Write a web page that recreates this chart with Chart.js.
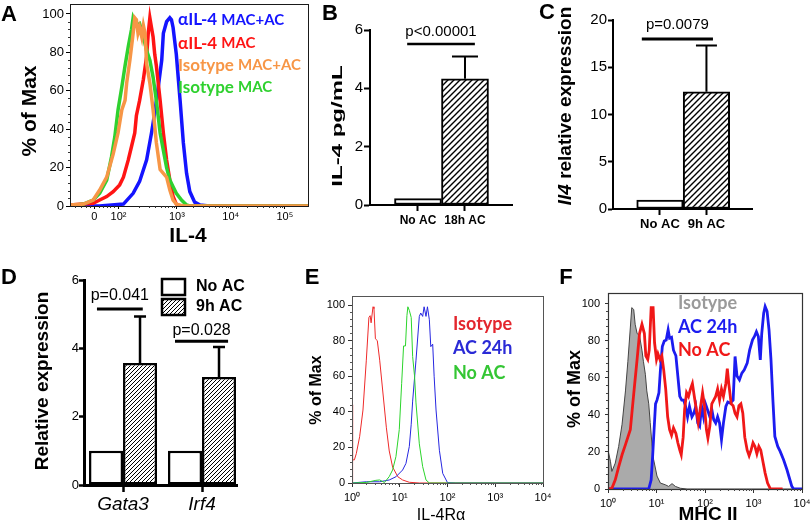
<!DOCTYPE html>
<html>
<head>
<meta charset="utf-8">
<script src="https://cdn.jsdelivr.net/npm/chart.js@4.4.1/dist/chart.umd.min.js"></script>
<style>
  html, body { margin: 0; padding: 0; background: #ffffff; }
  #fig { position: relative; width: 810px; height: 527px; overflow: hidden; background: #fff; }
  #fig canvas { position: absolute; left: 0; top: 0; }
</style>
</head>
<body>
<div id="fig">
  <canvas id="cA" width="810" height="527"></canvas>
  <canvas id="cB" width="810" height="527"></canvas>
  <canvas id="cC" width="810" height="527"></canvas>
  <canvas id="cD" width="810" height="527"></canvas>
  <canvas id="cE" width="810" height="527"></canvas>
  <canvas id="cF" width="810" height="527"></canvas>
</div>
<script>
// ===================== DATA =====================
// Panel A: IL-4 flow histograms (x = position on logicle display axis, y = % of max)
const A_tickValues = [1.47, 1.92, 3, 4, 5];
const A_tickLabels = ['0', '10²', '10³', '10⁴', '10⁵'];
const A_legend = ['αIL-4 MAC+AC', 'αIL-4 MAC', 'Isotype MAC+AC', 'Isotype MAC'];
const A_blue_x = [1.02, 1.57, 2.01, 2.19, 2.31, 2.44, 2.53, 2.59, 2.65, 2.72, 2.75, 2.81, 2.87, 2.90, 2.93, 2.99, 3.06, 3.12, 3.18, 3.24, 3.33, 3.43, 3.6, 5.43];
const A_blue_y = [0, 0, 1, 6.6, 12.8, 24, 38, 48.6, 60.8, 76, 90, 96, 98, 97, 93, 79, 55, 33, 17, 7.5, 2, 0.5, 0, 0];
const A_red_x = [1.02, 1.45, 1.57, 1.70, 1.82, 1.94, 2.01, 2.10, 2.16, 2.22, 2.25, 2.31, 2.38, 2.44, 2.47, 2.50, 2.53, 2.56, 2.59, 2.62, 2.69, 2.75, 2.81, 2.87, 2.93, 2.99, 3.06, 5.43];
const A_red_y = [0.5, 1.4, 3.1, 4.9, 7.5, 11, 15, 24, 31, 38, 47, 55, 66, 78, 90, 98, 93, 88, 79, 73, 55, 38, 24, 13.5, 5, 1, 0, 0];
const A_orange_x = [1.02, 1.27, 1.45, 1.57, 1.70, 1.82, 1.91, 1.98, 2.04, 2.07, 2.13, 2.19, 2.22, 2.25, 2.28, 2.31, 2.35, 2.38, 2.41, 2.44, 2.50, 2.56, 2.62, 2.69, 2.75, 2.81, 2.87, 2.93, 2.99, 3.12, 5.43];
const A_orange_y = [0.5, 1, 3.1, 8.3, 15, 27, 38, 50, 55, 64, 76, 90, 98, 97, 90, 93, 88, 94, 90, 74, 64, 50, 33, 19, 17, 15, 8.3, 3, 1, 0, 0];
const A_green_x = [1.02, 1.27, 1.45, 1.57, 1.70, 1.79, 1.85, 1.91, 1.98, 2.04, 2.10, 2.16, 2.19, 2.25, 2.31, 2.38, 2.44, 2.50, 2.56, 2.62, 2.69, 2.75, 2.81, 2.87, 2.93, 2.99, 3.09, 3.18, 3.24, 5.43];
const A_green_y = [0, 1, 3.1, 6.6, 13.5, 25.7, 36, 50, 62, 73, 83, 92, 98, 94, 95, 88, 81, 76, 67, 55, 38, 29, 20, 13.5, 10, 6.6, 3, 0.5, 0, 0];

// Panel B: IL-4 pg/mL
const B_categories = ['No AC', '18h AC'];
const B_values = [0.22, 4.33];
const B_errors = [0, 0.76];
const B_pText = 'p<0.00001';

// Panel C: Il4 relative expression
const C_categories = ['No AC', '9h AC'];
const C_values = [0.95, 12.4];
const C_errors = [0, 4.9];
const C_pText = 'p=0.0079';

// Panel D: relative expression of Gata3 / Irf4
const D_genes = ['Gata3', 'Irf4'];
const D_series = ['No AC', '9h AC'];
const D_noAC = [1, 1];
const D_9hAC = [3.57, 3.16];
const D_9hAC_err = [1.36, 0.88];
const D_pTexts = ['p=0.041', 'p=0.028'];

// Panel E: IL-4Rα histograms (x = log10 intensity, y = % of max)
const E_tickLabels = ['10⁰', '10¹', '10²', '10³', '10⁴'];
const E_legend = ['Isotype', 'AC 24h', 'No AC'];
const E_red_x = [0, 0.005, 0.02, 0.05, 0.09, 0.16, 0.23, 0.30, 0.354, 0.38, 0.40, 0.44, 0.46, 0.49, 0.53, 0.58, 0.65, 0.72, 0.78, 0.85, 0.96, 1.06, 1.20, 1.41, 4];
const E_red_y = [0, 44, 13, 13, 16.5, 26, 41, 69, 93, 94, 90, 99, 98, 81, 80, 69, 50, 31, 18, 9, 3.5, 1.7, 0.4, 0, 0];
const E_blue_x = [0, 0.30, 0.58, 0.78, 0.92, 1.06, 1.13, 1.20, 1.24, 1.27, 1.34, 1.41, 1.44, 1.48, 1.51, 1.55, 1.58, 1.62, 1.65, 1.69, 1.72, 1.76, 1.83, 1.90, 2.0, 2.17, 4];
const E_blue_y = [0, 0.7, 0.7, 1.7, 3.5, 7.3, 11, 20.5, 33, 46, 69, 93.6, 95.5, 93.6, 99, 93.6, 99, 91.7, 76.6, 78, 60, 41, 18.4, 5.4, 0.2, 0, 0];
const E_green_x = [0, 0.30, 0.50, 0.58, 0.68, 0.78, 0.85, 0.92, 0.99, 1.04, 1.08, 1.12, 1.15, 1.17, 1.20, 1.24, 1.27, 1.31, 1.34, 1.41, 1.48, 1.55, 1.62, 4];
const E_green_y = [0, 0.3, 1.5, 1.7, 0.3, 3.6, 7.3, 14.8, 30, 56, 77, 77, 94, 99, 97, 93, 71, 60, 45, 22, 9.2, 1.7, 0, 0];

// Panel F: MHC II histograms (x = log10 intensity, y = % of max)
const F_tickLabels = ['10⁰', '10¹', '10²', '10³', '10⁴'];
const F_legend = ['Isotype', 'AC 24h', 'No AC'];
const F_iso_x = [0, 0.05, 0.08, 0.15, 0.22, 0.29, 0.36, 0.41, 0.46, 0.49, 0.53, 0.56, 0.60, 0.65, 0.70, 0.73, 0.77, 0.80, 0.84, 0.87, 0.91, 0.94, 1.01, 1.08, 1.18, 1.25, 1.32, 1.39, 1.49, 1.63, 4];
const F_iso_y = [21, 15, 9.5, 14, 23, 35, 53, 69, 87, 98, 97, 89, 84, 83, 75, 69, 62, 53, 46, 36, 23, 16, 7, 3.2, 2.3, 1.4, 2.9, 1.4, 0.4, 0, 0];
const F_red_x = [0, 0.08, 0.15, 0.22, 0.29, 0.36, 0.41, 0.46, 0.50, 0.54, 0.60, 0.65, 0.70, 0.75, 0.78, 0.82, 0.85, 0.89, 0.93, 0.96, 1.00, 1.03, 1.07, 1.11, 1.15, 1.19, 1.23, 1.27, 1.31, 1.35, 1.40, 1.44, 1.48, 1.51, 1.55, 1.58, 1.62, 1.66, 1.70, 1.74, 1.78, 1.82, 1.86, 1.90, 1.95, 1.99, 2.03, 2.06, 2.10, 2.14, 2.18, 2.22, 2.26, 2.30, 2.34, 2.38, 2.43, 2.46, 2.49, 2.54, 2.58, 2.62, 2.66, 2.70, 2.74, 2.78, 2.82, 2.87, 2.91, 2.95, 2.99, 3.03, 3.07, 3.11, 3.15, 3.20, 3.24, 3.29, 3.35, 3.6];
const F_red_y = [0, 0.4, 5, 12, 18.5, 24, 28, 32, 43, 54, 70, 84, 89, 84, 72, 70, 75, 98, 98, 79, 70, 73, 70, 72, 64, 54, 39, 32, 29, 33, 30, 25, 21, 18.5, 28, 43, 52, 50, 54, 57, 50, 43, 36, 43, 52, 45, 32, 27.5, 34, 46, 48, 50, 54, 48, 54, 50, 57, 65, 57, 46, 45, 41, 39, 45, 46, 41, 28, 21, 18, 21, 25, 23, 19, 23, 21, 14, 8.6, 3.2, 0, 0];
const F_blue_x = [0, 0.84, 0.89, 0.92, 0.95, 0.98, 1.01, 1.05, 1.08, 1.12, 1.16, 1.20, 1.24, 1.27, 1.31, 1.35, 1.40, 1.44, 1.48, 1.52, 1.56, 1.60, 1.64, 1.68, 1.73, 1.77, 1.81, 1.85, 1.89, 1.93, 1.97, 2.01, 2.05, 2.10, 2.14, 2.18, 2.22, 2.26, 2.30, 2.34, 2.38, 2.43, 2.47, 2.52, 2.58, 2.62, 2.66, 2.71, 2.76, 2.81, 2.87, 2.92, 2.98, 3.02, 3.06, 3.10, 3.14, 3.17, 3.21, 3.24, 3.28, 3.32, 3.36, 3.40, 3.44, 3.50, 3.55, 3.62, 3.69, 3.75, 3.79, 3.83, 4];
const F_blue_y = [0, 0, 5, 17.6, 32, 46, 48, 52, 64, 77, 80, 80.5, 86, 81.5, 82, 75, 72, 61, 50, 48, 48, 44.6, 39, 44.6, 39, 41, 44.6, 35.6, 34, 44.6, 39, 46, 43, 39, 43, 37.4, 35.6, 39, 35.6, 26.6, 35.6, 44.6, 47, 46.4, 48, 71.6, 61, 59, 62.6, 64.4, 68, 75, 80.6, 82.4, 85, 82.4, 69.8, 84, 95, 98.6, 96, 86, 70, 48, 28.4, 23, 20.3, 15.8, 10.4, 5, 1.4, 0, 0];

// ===================== HELPERS =====================
const W = 810, H = 527;
const SANS = '"Liberation Sans", Arial, sans-serif';
const LATO = 'Lato, "Liberation Sans", sans-serif';
const UP = -Math.PI / 2;
const PCT_TICKS = [0, 20, 40, 60, 80, 100];
const pctMinor = [];
for (let v = 4; v < 100; v += 4) if (v % 20) pctMinor.push(v);
function logMinor(d0, d1) { const a = []; for (let d = d0; d < d1; d++) for (let k = 2; k <= 9; k++) a.push(d + Math.log10(k)); return a; }
function pts(xs, ys) { return xs.map((x, i) => ({ x: x, y: ys[i] })); }

function layoutBox(L, T, R, B, yW, xH) {
  return { padding: { left: L - yW, top: T, right: W - R, bottom: H - B - xH } };
}
function xScale(min, max, tickVals, labels, o) {
  return {
    type: 'linear', min: min, max: max, offset: false,
    afterBuildTicks: s => { s.ticks = tickVals.map(v => ({ value: v })); },
    afterFit: s => { s.height = o.h; s.paddingLeft = 0; s.paddingRight = 0; },
    ticks: { callback: (v, i) => labels[i], font: o.font, color: '#000', padding: o.pad, maxRotation: 0, minRotation: 0, autoSkip: false },
    grid: { display: true, offset: false, drawOnChartArea: false, drawTicks: true, tickLength: o.tl, tickWidth: o.tw || 1, tickColor: o.tc || '#000' },
    border: o.border || { display: false }
  };
}
function yScale(min, max, tickVals, o) {
  return {
    type: 'linear', min: min, max: max,
    afterBuildTicks: s => { s.ticks = tickVals.map(v => ({ value: v })); },
    afterFit: s => { s.width = o.w; s.paddingTop = 0; s.paddingBottom = 0; },
    ticks: { font: o.font, color: '#000', padding: o.pad, autoSkip: false },
    grid: { display: true, drawOnChartArea: false, drawTicks: true, tickLength: o.tl, tickWidth: o.tw || 1, tickColor: o.tc || '#000' },
    border: o.border || { display: false }
  };
}
function baseOptions(layout, scales) {
  return {
    responsive: false, animation: false, devicePixelRatio: 1, events: [],
    layout: layout,
    plugins: { legend: { display: false }, tooltip: { enabled: false } },
    scales: scales
  };
}
function line(xs, ys, color, lw, order, extra) {
  return Object.assign({ data: pts(xs, ys), showLine: true, borderColor: color, backgroundColor: color, borderWidth: lw, pointRadius: 0, tension: 0, order: order, fill: false }, extra || {});
}
function txt(ctx, s, x, y, o) {
  ctx.save();
  ctx.translate(x, y);
  if (o.rot) ctx.rotate(o.rot);
  if (o.sx || o.sy) ctx.scale(o.sx || 1, o.sy || 1);
  ctx.font = o.font; ctx.fillStyle = o.color || '#000';
  ctx.textAlign = o.align || 'center'; ctx.textBaseline = 'middle';
  ctx.fillText(s, 0, 0);
  ctx.restore();
}
function mixed(ctx, parts, x, y, o) {
  ctx.save();
  ctx.translate(x, y);
  if (o.rot) ctx.rotate(o.rot);
  let total = 0;
  parts.forEach(p => { ctx.font = p.font; p.w = ctx.measureText(p.t).width; total += p.w; });
  let cx = o.align === 'left' ? 0 : -total / 2;
  ctx.textBaseline = 'middle'; ctx.textAlign = 'left';
  parts.forEach(p => { ctx.font = p.font; ctx.fillStyle = p.color || '#000'; ctx.fillText(p.t, cx, 0); cx += p.w; });
  ctx.restore();
}
function frame(chart, color, lw) {
  const a = chart.chartArea, ctx = chart.ctx;
  ctx.save(); ctx.strokeStyle = color; ctx.lineWidth = lw;
  ctx.strokeRect(Math.round(a.left) + 0.5, Math.round(a.top) + 0.5, Math.round(a.right - a.left), Math.round(a.bottom - a.top));
  ctx.restore();
}
function minorTicks(chart, xs, ys, len, color) {
  const ctx = chart.ctx, a = chart.chartArea, sx = chart.scales.x, sy = chart.scales.y;
  ctx.save(); ctx.strokeStyle = color; ctx.lineWidth = 1; ctx.beginPath();
  xs.forEach(v => { if (v < sx.min || v > sx.max) return; const p = Math.round(sx.getPixelForValue(v)) + 0.5; ctx.moveTo(p, a.bottom); ctx.lineTo(p, a.bottom + len); });
  ys.forEach(v => { const p = Math.round(sy.getPixelForValue(v)) + 0.5; ctx.moveTo(a.left, p); ctx.lineTo(a.left - len, p); });
  ctx.stroke(); ctx.restore();
}
function hatch(step, lw) {
  const c = document.createElement('canvas'); c.width = step; c.height = step;
  const g = c.getContext('2d');
  g.fillStyle = '#fff'; g.fillRect(0, 0, step, step);
  g.strokeStyle = '#000'; g.lineWidth = lw; g.beginPath();
  for (let k = 0; k <= 2; k++) { g.moveTo(-1, k * step + 1); g.lineTo(step + 1, k * step - step - 1); }
  g.stroke();
  return document.createElement('canvas').getContext('2d').createPattern(c, 'repeat');
}
function errorBars(chart, cap, lw) {
  const ctx = chart.ctx, ys = chart.scales.y;
  chart.data.datasets.forEach((ds, di) => {
    if (!ds.errors) return;
    chart.getDatasetMeta(di).data.forEach((el, j) => {
      const e = ds.errors[j]; if (!e) return;
      const top = ys.getPixelForValue(ds.data[j].y + e);
      ctx.save(); ctx.strokeStyle = '#000'; ctx.lineWidth = lw; ctx.beginPath();
      ctx.moveTo(el.x, el.y); ctx.lineTo(el.x, top);
      ctx.moveTo(el.x - cap / 2, top); ctx.lineTo(el.x + cap / 2, top);
      ctx.stroke(); ctx.restore();
    });
  });
}
function sigLine(chart, s, label, lw, gap, font) {
  const ctx = chart.ctx, xs = chart.scales.x, ys = chart.scales.y;
  const x0 = xs.getPixelForValue(s.from), x1 = xs.getPixelForValue(s.to), y = ys.getPixelForValue(s.y);
  ctx.save(); ctx.strokeStyle = '#000'; ctx.lineWidth = lw; ctx.beginPath();
  ctx.moveTo(x0, y); ctx.lineTo(x1, y); ctx.stroke(); ctx.restore();
  txt(ctx, label, (x0 + x1) / 2, y - gap, { font: font });
}
const LETTER = 'bold 22px ' + SANS;

// ===================== PANEL A =====================
new Chart(document.getElementById('cA'), {
  type: 'scatter',
  data: { datasets: [
    line(A_orange_x, A_orange_y, '#f79646', 3.5, 0),
    line(A_green_x, A_green_y, '#2fd12f', 3.5, 1),
    line(A_red_x, A_red_y, '#ff1414', 3.5, 2),
    line(A_blue_x, A_blue_y, '#1414ff', 3.5, 3)
  ] },
  options: baseOptions(layoutBox(70, 4, 308, 206, 70, 24), {
    x: xScale(1.02, 5.43, A_tickValues, A_tickLabels, { h: 24, font: { family: SANS, size: 11 }, pad: 1, tl: 3 }),
    y: yScale(0, 105.2, PCT_TICKS, { w: 70, font: { family: SANS, size: 13 }, pad: 2, tl: 4 })
  }),
  plugins: [{ id: 'decoA', afterDraw(chart) {
    const ctx = chart.ctx;
    frame(chart, '#1a1a1a', 1);
    minorTicks(chart, logMinor(2, 5).filter(v => v > 2).concat([1.12, 1.22, 1.31, 1.39, 1.55, 1.63, 1.70, 1.77, 1.84]), pctMinor, 2, '#333');
    txt(ctx, 'A', 9, 15, { font: LETTER });
    txt(ctx, '% of Max', 30, 111, { font: 'bold 21px ' + SANS, rot: UP });
    txt(ctx, 'IL-4', 188, 236, { font: 'bold 21px ' + SANS });
    const cols = ['#1414ff', '#ff1414', '#f79646', '#2fd12f'];
    const ys = [20, 43.5, 65.5, 87.5];
    A_legend.forEach((s, i) => {
      const sp = s.indexOf(' ');
      mixed(ctx, [
        { t: s.slice(0, sp + 1), font: 'bold 17px ' + LATO, color: cols[i] },
        { t: s.slice(sp + 1), font: 'bold 15px ' + LATO, color: cols[i] }
      ], 178, ys[i], { align: 'left' });
    });
  } }]
});

// ===================== PANEL B =====================
const hatchB = hatch(6, 1.4);
new Chart(document.getElementById('cB'), {
  type: 'bar',
  data: { datasets: [{
    data: pts([0, 1], B_values), errors: B_errors,
    backgroundColor: ['#ffffff', hatchB], borderColor: '#000', borderWidth: 2, borderSkipped: false,
    barPercentage: 1, categoryPercentage: 1
  }] },
  options: baseOptions(layoutBox(370, 30, 512, 205, 50, 32), {
    x: xScale(-1.021, 2.0, [0, 1], B_categories, { h: 32, font: { family: SANS, size: 12, weight: 'bold' }, pad: 2, tl: 6, tw: 2, border: { display: true, width: 2, color: '#000' } }),
    y: yScale(0, 6, [0, 2, 4, 6], { w: 50, font: { family: SANS, size: 15 }, pad: 1, tl: 6, tw: 2, border: { display: true, width: 2, color: '#000' } })
  }),
  plugins: [{ id: 'decoB', afterDraw(chart) {
    const ctx = chart.ctx;
    errorBars(chart, 26, 2);
    sigLine(chart, { from: -0.23, to: 1.21, y: 5.52 }, B_pText, 2.5, 12, '15px ' + SANS);
    txt(ctx, 'B', 330, 14, { font: LETTER });
    txt(ctx, 'IL-4 pg/mL', 338, 126, { font: 'bold 15px ' + SANS, rot: UP, sx: 1.6 });
  } }]
});

// ===================== PANEL C =====================
const hatchC = hatch(6, 1.4);
new Chart(document.getElementById('cC'), {
  type: 'bar',
  data: { datasets: [{
    data: pts([0, 1], C_values), errors: C_errors,
    backgroundColor: ['#ffffff', hatchC], borderColor: '#000', borderWidth: 2, borderSkipped: false,
    barPercentage: 1, categoryPercentage: 1
  }] },
  options: baseOptions(layoutBox(613, 20, 752, 209, 53, 32), {
    x: xScale(-1.01, 1.98, [0, 1], C_categories, { h: 32, font: { family: SANS, size: 13, weight: 'bold' }, pad: 2, tl: 6, tw: 2, border: { display: true, width: 2, color: '#000' } }),
    y: yScale(0, 20, [0, 5, 10, 15, 20], { w: 53, font: { family: SANS, size: 15 }, pad: 1, tl: 5, tw: 2, border: { display: true, width: 2, color: '#000' } })
  }),
  plugins: [{ id: 'decoC', afterDraw(chart) {
    const ctx = chart.ctx;
    errorBars(chart, 21, 2);
    sigLine(chart, { from: -0.39, to: 1.14, y: 18.0 }, C_pText, 3, 14, '15px ' + SANS);
    txt(ctx, 'C', 547, 13, { font: LETTER });
    mixed(ctx, [
      { t: 'Il4', font: 'italic bold 19px ' + SANS },
      { t: ' relative expression', font: 'bold 19px ' + SANS }
    ], 566, 106, { rot: UP });
  } }]
});

// ===================== PANEL D =====================
const hatchD = hatch(4, 1);
new Chart(document.getElementById('cD'), {
  type: 'bar',
  data: { datasets: [
    { label: D_series[0], data: pts([0, 1], D_noAC), backgroundColor: '#ffffff', borderColor: '#000', borderWidth: 2.5, borderSkipped: false, barPercentage: 1, categoryPercentage: 0.861 },
    { label: D_series[1], data: pts([0, 1], D_9hAC), errors: D_9hAC_err, backgroundColor: hatchD, borderColor: '#000', borderWidth: 2.5, borderSkipped: false, barPercentage: 1, categoryPercentage: 0.861 }
  ] },
  options: baseOptions(layoutBox(84, 280, 237, 485, 50, 40), {
    x: xScale(-0.494, 1.443, [0, 1], D_genes, { h: 40, font: { family: SANS, size: 19, style: 'italic' }, pad: 1, tl: 7, tw: 2.5, border: { display: true, width: 3, color: '#000' } }),
    y: yScale(0, 6, [0, 2, 4, 6], { w: 50, font: { family: SANS, size: 13 }, pad: 0, tl: 5, tw: 2.5, border: { display: true, width: 3, color: '#000' } })
  }),
  plugins: [{ id: 'decoD', afterDraw(chart) {
    const ctx = chart.ctx;
    errorBars(chart, 12, 2.5);
    sigLine(chart, { from: -0.33, to: 0.25, y: 5.15 }, D_pTexts[0], 3, 13, '16px ' + SANS);
    sigLine(chart, { from: 0.658, to: 1.33, y: 4.21 }, D_pTexts[1], 3, 11, '16px ' + SANS);
    txt(ctx, 'D', 9, 278, { font: LETTER });
    txt(ctx, 'Relative expression', 43, 381, { font: 'bold 19px ' + SANS, rot: UP });
    const items = [{ y: 279, fill: '#ffffff' }, { y: 299, fill: hatchD }];
    items.forEach((it, i) => {
      ctx.save(); ctx.fillStyle = it.fill; ctx.fillRect(162, it.y, 23, 16);
      ctx.strokeStyle = '#000'; ctx.lineWidth = 2.5; ctx.strokeRect(162, it.y, 23, 16); ctx.restore();
      txt(ctx, chart.data.datasets[i].label, 196, it.y + 8, { font: 'bold 16px ' + SANS, align: 'left' });
    });
  } }]
});

// ===================== PANEL E =====================
new Chart(document.getElementById('cE'), {
  type: 'scatter',
  data: { datasets: [
    line(E_green_x, E_green_y, '#2bd42b', 1, 0),
    line(E_blue_x, E_blue_y, '#2626e0', 1, 1),
    line(E_red_x, E_red_y, '#ee2a2a', 1, 2)
  ] },
  options: baseOptions(layoutBox(352, 296, 543, 483, 52, 30), {
    x: xScale(0, 4, [0, 1, 2, 3, 4], E_tickLabels, { h: 30, font: { family: SANS, size: 11 }, pad: 4, tl: 4, tc: '#333' }),
    y: yScale(0, 105.06, PCT_TICKS, { w: 52, font: { family: SANS, size: 11 }, pad: 3, tl: 4, tc: '#333' })
  }),
  plugins: [{ id: 'decoE', afterDraw(chart) {
    const ctx = chart.ctx;
    frame(chart, '#555', 1);
    minorTicks(chart, logMinor(0, 4), pctMinor, 2, '#555');
    txt(ctx, 'E', 312, 278, { font: LETTER });
    txt(ctx, '% of Max', 316.5, 390, { font: 'bold 16px ' + SANS, rot: UP });
    txt(ctx, 'IL-4Rα', 441, 516, { font: '16px ' + SANS });
    const cols = ['#e3262d', '#2a2ad6', '#34c634'];
    const ys = [324, 348.5, 373.5];
    E_legend.forEach((s, i) => txt(ctx, s, 453, ys[i], { font: 'bold 18px ' + LATO, color: cols[i], align: 'left' }));
  } }]
});

// ===================== PANEL F =====================
new Chart(document.getElementById('cF'), {
  type: 'scatter',
  data: { datasets: [
    line(F_red_x, F_red_y, '#f01818', 2.8, 0),
    line(F_blue_x, F_blue_y, '#1c1cf0', 2.8, 1),
    line(F_iso_x, F_iso_y, '#444444', 1, 2, { fill: 'origin', backgroundColor: '#aaaaaa' })
  ] },
  options: baseOptions(layoutBox(608, 293, 802, 489, 50, 30), {
    x: xScale(0, 4, [0, 1, 2, 3, 4], F_tickLabels, { h: 30, font: { family: SANS, size: 11 }, pad: 4, tl: 4, tc: '#333' }),
    y: yScale(0, 105.9, PCT_TICKS, { w: 50, font: { family: SANS, size: 11 }, pad: 5, tl: 3, tc: '#333' })
  }),
  plugins: [{ id: 'decoF', afterDraw(chart) {
    const ctx = chart.ctx;
    frame(chart, '#333', 1.2);
    minorTicks(chart, logMinor(0, 4), pctMinor, 2, '#444');
    txt(ctx, 'F', 566, 278, { font: LETTER });
    txt(ctx, '% of Max', 575, 389, { font: 'bold 18px ' + SANS, rot: UP });
    txt(ctx, 'MHC II', 708, 515, { font: 'bold 19px ' + SANS });
    const cols = ['#9a9a9a', '#1c1cf0', '#f01818'];
    const ys = [303, 327, 350];
    F_legend.forEach((s, i) => txt(ctx, s, 678, ys[i], { font: 'bold 18px ' + LATO, color: cols[i], align: 'left' }));
  } }]
});
</script>
</body>
</html>
